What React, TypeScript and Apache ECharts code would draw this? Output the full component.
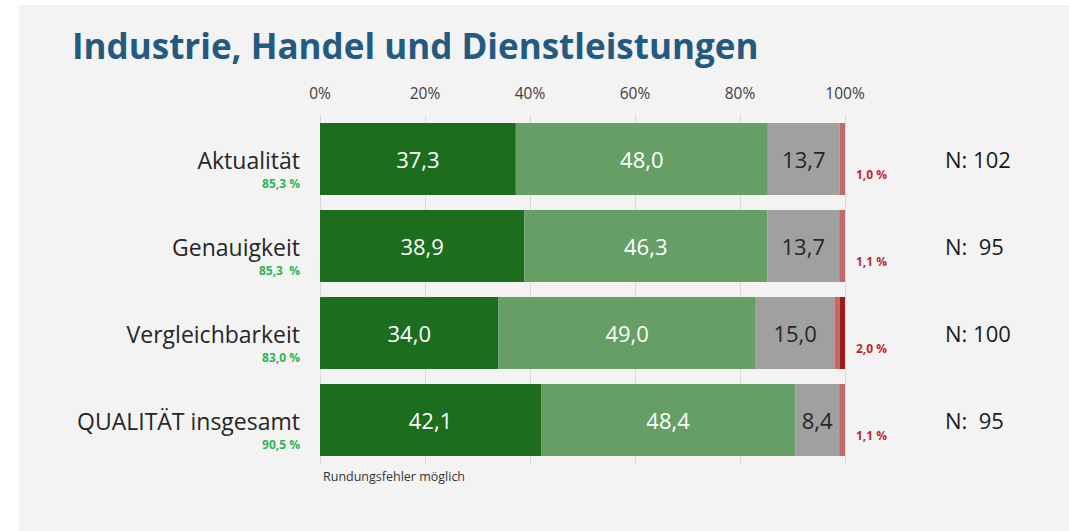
import React, { useEffect, useRef } from "react";
import * as echarts from "echarts";

const categories = ["Aktualität", "Genauigkeit", "Vergleichbarkeit", "QUALITÄT insgesamt"];
const sehrGut = [37.3, 38.9, 34.0, 42.1];
const gut = [48.0, 46.3, 49.0, 48.4];
const mittel = [13.7, 13.7, 15.0, 8.4];
const schlecht = [1.0, 1.1, 1.0, 1.1];
const sehrSchlecht = [0, 0, 1.0, 0];
const positiveShares = ["85,3 %", "85,3  %", "83,0 %", "90,5 %"];
const negativeShares = ["1,0 %", "1,1 %", "2,0 %", "1,1 %"];
const sampleSizes = ["N: 102", "N:  95", "N: 100", "N:  95"];
const xTickValues = [0, 20, 40, 60, 80, 100];

const FONT = "Open Sans";

function fmt(v: number) {
  return v.toFixed(1).replace(".", ",");
}

export default function App() {
  const ref = useRef<HTMLDivElement>(null);
  useEffect(() => {
    if (!ref.current) return;
    const chart = echarts.init(ref.current, null, { renderer: "svg" });
    const valueLabel = (color: string) => ({
      show: true,
      position: "inside" as const,
      color,
      fontSize: 22,
      fontFamily: FONT,
      formatter: (p: any) => fmt(p.value),
    });
    const catAxisBase = {
      type: "category" as const,
      data: categories,
      inverse: true,
      axisTick: { show: false },
      splitLine: { show: false },
    };
    chart.setOption({
      animation: false,
      backgroundColor: "#f3f3f3",
      textStyle: { fontFamily: FONT },
      graphic: [
        { type: "rect", shape: { x: 0, y: 0, width: 19, height: 531 }, style: { fill: "#ffffff" }, silent: true },
        { type: "rect", shape: { x: 0, y: 0, width: 1069, height: 5 }, style: { fill: "#ffffff" }, silent: true },
        {
          type: "text",
          x: 72,
          y: 45,
          style: {
            text: "Industrie, Handel und Dienstleistungen",
            fontFamily: FONT,
            fontWeight: "bold",
            fontSize: 35,
            fill: "#245a80",
            verticalAlign: "middle",
          },
        },
        {
          type: "text",
          x: 323,
          y: 476,
          style: {
            text: "Rundungsfehler möglich",
            fontFamily: FONT,
            fontSize: 12.5,
            fill: "#333333",
            verticalAlign: "middle",
          },
        },
      ],
      grid: { left: 320, right: 224, top: 115.5, height: 348, containLabel: false },
      xAxis: {
        type: "value",
        position: "top",
        min: 0,
        max: 100,
        interval: 20,
        axisLine: { show: false },
        axisTick: { show: false },
        axisLabel: {
          formatter: (v: number) => (xTickValues.includes(v) ? v + "%" : ""),
          fontSize: 15.5,
          color: "#404040",
          margin: 15,
          fontFamily: FONT,
        },
        splitLine: { show: true, lineStyle: { color: "#d9d9d9", width: 1 } },
      },
      yAxis: [
        {
          ...catAxisBase,
          position: "left",
          axisLine: { show: true, lineStyle: { color: "#d9d9d9" } },
          axisLabel: {
            margin: 20,
            padding: [18, 0, 0, 0],
            formatter: (v: string, i: number) => `{m|${v}}\n{g|${positiveShares[i]}}`,
            rich: {
              m: { fontSize: 23, color: "#262626", lineHeight: 30, align: "right", fontFamily: FONT },
              g: { fontSize: 12, fontWeight: "bold", color: "#2db35a", lineHeight: 16, align: "right", fontFamily: FONT },
            },
          },
        },
        {
          ...catAxisBase,
          position: "right",
          axisLine: { show: false },
          axisLabel: {
            margin: 11,
            formatter: (_v: string, i: number) => `{s| }\n{r|${negativeShares[i]}}`,
            rich: {
              s: { fontSize: 10, lineHeight: 30 },
              r: { fontSize: 12, fontWeight: "bold", color: "#c0272d", lineHeight: 14, fontFamily: FONT },
            },
          },
        },
        {
          ...catAxisBase,
          position: "right",
          offset: 92,
          axisLine: { show: false },
          axisLabel: {
            margin: 8,
            formatter: (_v: string, i: number) => sampleSizes[i],
            fontSize: 22,
            color: "#1a1a1a",
            fontFamily: FONT,
          },
        },
      ],
      series: [
        { name: "sehr gut", type: "bar", stack: "t", barWidth: 72, data: sehrGut, itemStyle: { color: "#1c6e1e" }, label: valueLabel("#ffffff") },
        { name: "gut", type: "bar", stack: "t", barWidth: 72, data: gut, itemStyle: { color: "#669e66" }, label: valueLabel("#ffffff") },
        { name: "mittel", type: "bar", stack: "t", barWidth: 72, data: mittel, itemStyle: { color: "#a0a0a0" }, label: valueLabel("#262626") },
        { name: "schlecht", type: "bar", stack: "t", barWidth: 72, data: schlecht, itemStyle: { color: "#bf6a6a" } },
        { name: "sehr schlecht", type: "bar", stack: "t", barWidth: 72, data: sehrSchlecht, itemStyle: { color: "#9c1c1c" } },
      ],
    });
    return () => chart.dispose();
  }, []);
  return <div ref={ref} style={{ position: "fixed", left: 0, top: 0, width: 1069, height: 531 }} />;
}
